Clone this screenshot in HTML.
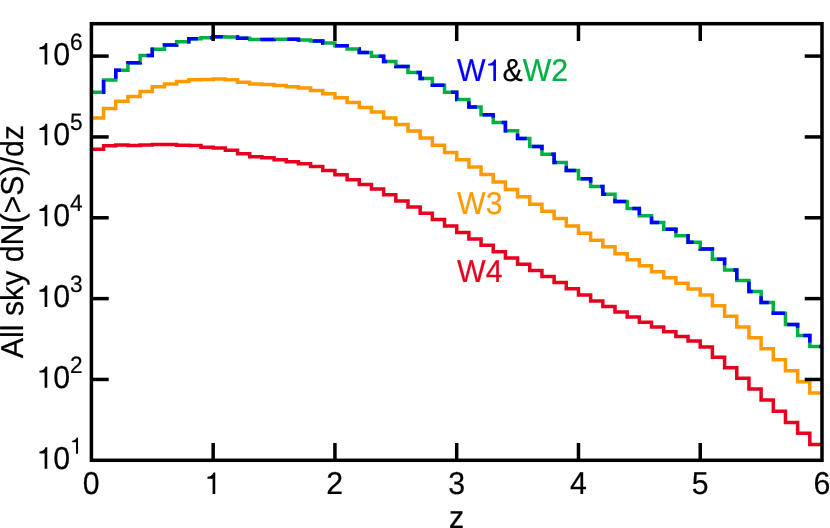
<!DOCTYPE html>
<html><head><meta charset="utf-8"><title>chart</title>
<style>
html,body{margin:0;padding:0;background:#fff;}
svg{display:block;font-family:"Liberation Sans",sans-serif;will-change:transform;}
</style></head><body>
<svg width="830" height="528" viewBox="0 0 830 528">
<rect x="0" y="0" width="830" height="528" fill="#ffffff"/>
<g fill="none" stroke-width="3.5" stroke-linejoin="miter" stroke-linecap="butt">
<path d="M91.40 149.20 L103.58 149.20 L103.58 145.80 L115.75 145.80 L115.75 144.93 L127.93 144.93 L127.93 145.50 L140.11 145.50 L140.11 144.93 L152.28 144.93 L152.28 144.45 L164.46 144.45 L164.46 144.45 L176.64 144.45 L176.64 145.20 L188.81 145.20 L188.81 145.45 L200.99 145.45 L200.99 147.20 L213.17 147.20 L213.17 147.95 L225.34 147.95 L225.34 150.20 L237.52 150.20 L237.52 153.70 L249.70 153.70 L249.70 156.70 L261.87 156.70 L261.87 157.75 L274.05 157.75 L274.05 159.80 L286.23 159.80 L286.23 161.80 L298.40 161.80 L298.40 163.70 L310.58 163.70 L310.58 166.58 L322.76 166.58 L322.76 170.46 L334.93 170.46 L334.93 174.85 L347.11 174.85 L347.11 179.80 L359.29 179.80 L359.29 184.57 L371.46 184.57 L371.46 189.05 L383.64 189.05 L383.64 194.80 L395.82 194.80 L395.82 200.95 L407.99 200.95 L407.99 206.97 L420.17 206.97 L420.17 213.20 L432.35 213.20 L432.35 219.62 L444.52 219.62 L444.52 226.02 L456.70 226.02 L456.70 232.56 L468.88 232.56 L468.88 239.07 L481.05 239.07 L481.05 245.34 L493.23 245.34 L493.23 251.85 L505.41 251.85 L505.41 258.10 L517.58 258.10 L517.58 264.35 L529.76 264.35 L529.76 270.40 L541.94 270.40 L541.94 276.60 L554.11 276.60 L554.11 282.50 L566.29 282.50 L566.29 288.74 L578.47 288.74 L578.47 294.96 L590.64 294.96 L590.64 300.90 L602.82 300.90 L602.82 306.50 L615.00 306.50 L615.00 311.90 L627.17 311.90 L627.17 317.00 L639.35 317.00 L639.35 322.30 L651.53 322.30 L651.53 327.08 L663.70 327.08 L663.70 331.85 L675.88 331.85 L675.88 336.60 L688.06 336.60 L688.06 341.10 L700.23 341.10 L700.23 346.90 L712.41 346.90 L712.41 357.15 L724.59 357.15 L724.59 367.70 L736.76 367.70 L736.76 378.36 L748.94 378.36 L748.94 389.10 L761.12 389.10 L761.12 400.10 L773.29 400.10 L773.29 411.30 L785.47 411.30 L785.47 422.46 L797.65 422.46 L797.65 433.36 L809.82 433.36 L809.82 444.40 L822.00 444.40" stroke="#e6001e"/>
<path d="M91.40 118.10 L103.58 118.10 L103.58 108.60 L115.75 108.60 L115.75 101.20 L127.93 101.20 L127.93 96.60 L140.11 96.60 L140.11 91.56 L152.28 91.56 L152.28 86.80 L164.46 86.80 L164.46 83.95 L176.64 83.95 L176.64 81.50 L188.81 81.50 L188.81 79.75 L200.99 79.75 L200.99 79.45 L213.17 79.45 L213.17 78.95 L225.34 78.95 L225.34 79.80 L237.52 79.80 L237.52 82.30 L249.70 82.30 L249.70 83.96 L261.87 83.96 L261.87 84.58 L274.05 84.58 L274.05 85.56 L286.23 85.56 L286.23 86.80 L298.40 86.80 L298.40 88.07 L310.58 88.07 L310.58 90.58 L322.76 90.58 L322.76 93.83 L334.93 93.83 L334.93 97.84 L347.11 97.84 L347.11 102.60 L359.29 102.60 L359.29 107.40 L371.46 107.40 L371.46 112.06 L383.64 112.06 L383.64 117.94 L395.82 117.94 L395.82 124.46 L407.99 124.46 L407.99 130.98 L420.17 130.98 L420.17 138.00 L432.35 138.00 L432.35 145.14 L444.52 145.14 L444.52 152.40 L456.70 152.40 L456.70 159.70 L468.88 159.70 L468.88 167.08 L481.05 167.08 L481.05 174.60 L493.23 174.60 L493.23 182.00 L505.41 182.00 L505.41 189.45 L517.58 189.45 L517.58 196.85 L529.76 196.85 L529.76 204.14 L541.94 204.14 L541.94 211.37 L554.11 211.37 L554.11 218.60 L566.29 218.60 L566.29 225.97 L578.47 225.97 L578.47 233.35 L590.64 233.35 L590.64 240.14 L602.82 240.14 L602.82 246.82 L615.00 246.82 L615.00 253.67 L627.17 253.67 L627.17 259.70 L639.35 259.70 L639.35 265.80 L651.53 265.80 L651.53 271.85 L663.70 271.85 L663.70 277.64 L675.88 277.64 L675.88 283.30 L688.06 283.30 L688.06 288.90 L700.23 288.90 L700.23 295.00 L712.41 295.00 L712.41 305.70 L724.59 305.70 L724.59 316.20 L736.76 316.20 L736.76 326.90 L748.94 326.90 L748.94 337.75 L761.12 337.75 L761.12 348.85 L773.29 348.85 L773.29 359.80 L785.47 359.80 L785.47 370.70 L797.65 370.70 L797.65 381.86 L809.82 381.86 L809.82 392.90 L822.00 392.90" stroke="#ff9900"/>
<path d="M91.40 92.20 L103.58 92.20 L103.58 79.90 L115.75 79.90 L115.75 70.30 L127.93 70.30 L127.93 62.85 L140.11 62.85 L140.11 55.40 L152.28 55.40 L152.28 49.30 L164.46 49.30 L164.46 44.95 L176.64 44.95 L176.64 41.75 L188.81 41.75 L188.81 38.80 L200.99 38.80 L200.99 37.70 L213.17 37.70 L213.17 36.80 L225.34 36.80 L225.34 37.05 L237.52 37.05 L237.52 38.30 L249.70 38.30 L249.70 39.55 L261.87 39.55 L261.87 39.40 L274.05 39.40 L274.05 39.25 L286.23 39.25 L286.23 39.30 L298.40 39.30 L298.40 39.90 L310.58 39.90 L310.58 40.90 L322.76 40.90 L322.76 43.10 L334.93 43.10 L334.93 45.70 L347.11 45.70 L347.11 49.00 L359.29 49.00 L359.29 52.60 L371.46 52.60 L371.46 56.30 L383.64 56.30 L383.64 61.44 L395.82 61.44 L395.82 66.58 L407.99 66.58 L407.99 72.47 L420.17 72.47 L420.17 78.60 L432.35 78.60 L432.35 85.25 L444.52 85.25 L444.52 92.20 L456.70 92.20 L456.70 99.56 L468.88 99.56 L468.88 106.95 L481.05 106.95 L481.05 114.72 L493.23 114.72 L493.23 122.60 L505.41 122.60 L505.41 130.70 L517.58 130.70 L517.58 138.43 L529.76 138.43 L529.76 146.40 L541.94 146.40 L541.94 154.36 L554.11 154.36 L554.11 162.46 L566.29 162.46 L566.29 170.55 L578.47 170.55 L578.47 178.80 L590.64 178.80 L590.64 186.60 L602.82 186.60 L602.82 194.35 L615.00 194.35 L615.00 201.40 L627.17 201.40 L627.17 208.60 L639.35 208.60 L639.35 215.70 L651.53 215.70 L651.53 222.50 L663.70 222.50 L663.70 229.30 L675.88 229.30 L675.88 235.66 L688.06 235.66 L688.06 242.20 L700.23 242.20 L700.23 249.05 L712.41 249.05 L712.41 259.30 L724.59 259.30 L724.59 269.96 L736.76 269.96 L736.76 280.50 L748.94 280.50 L748.94 291.40 L761.12 291.40 L761.12 302.40 L773.29 302.40 L773.29 313.30 L785.47 313.30 L785.47 324.60 L797.65 324.60 L797.65 335.50 L809.82 335.50 L809.82 346.60 L822.00 346.60" stroke="#00b044"/>
<path d="M91.40 92.20 L103.58 92.20 L103.58 79.90 L115.75 79.90 L115.75 70.30 L127.93 70.30 L127.93 62.85 L140.11 62.85 L140.11 55.40 L152.28 55.40 L152.28 49.30 L164.46 49.30 L164.46 44.95 L176.64 44.95 L176.64 41.75 L188.81 41.75 L188.81 38.80 L200.99 38.80 L200.99 37.70 L213.17 37.70 L213.17 36.80 L225.34 36.80 L225.34 37.05 L237.52 37.05 L237.52 38.30 L249.70 38.30 L249.70 39.55 L261.87 39.55 L261.87 39.40 L274.05 39.40 L274.05 39.25 L286.23 39.25 L286.23 39.30 L298.40 39.30 L298.40 39.90 L310.58 39.90 L310.58 40.90 L322.76 40.90 L322.76 43.10 L334.93 43.10 L334.93 45.70 L347.11 45.70 L347.11 49.00 L359.29 49.00 L359.29 52.60 L371.46 52.60 L371.46 56.30 L383.64 56.30 L383.64 61.44 L395.82 61.44 L395.82 66.58 L407.99 66.58 L407.99 72.47 L420.17 72.47 L420.17 78.60 L432.35 78.60 L432.35 85.25 L444.52 85.25 L444.52 92.20 L456.70 92.20 L456.70 99.56 L468.88 99.56 L468.88 106.95 L481.05 106.95 L481.05 114.72 L493.23 114.72 L493.23 122.60 L505.41 122.60 L505.41 130.70 L517.58 130.70 L517.58 138.43 L529.76 138.43 L529.76 146.40 L541.94 146.40 L541.94 154.36 L554.11 154.36 L554.11 162.46 L566.29 162.46 L566.29 170.55 L578.47 170.55 L578.47 178.80 L590.64 178.80 L590.64 186.60 L602.82 186.60 L602.82 194.35 L615.00 194.35 L615.00 201.40 L627.17 201.40 L627.17 208.60 L639.35 208.60 L639.35 215.70 L651.53 215.70 L651.53 222.50 L663.70 222.50 L663.70 229.30 L675.88 229.30 L675.88 235.66 L688.06 235.66 L688.06 242.20 L700.23 242.20 L700.23 249.05 L712.41 249.05 L712.41 259.30 L724.59 259.30 L724.59 269.96 L736.76 269.96 L736.76 280.50 L748.94 280.50 L748.94 291.40 L761.12 291.40 L761.12 302.40 L773.29 302.40 L773.29 313.30 L785.47 313.30 L785.47 324.60 L797.65 324.60 L797.65 335.50 L809.82 335.50 L809.82 346.60 L822.00 346.60" stroke="#0000ff" stroke-dasharray="13.7 13.37" stroke-dashoffset="-10.75"/>
</g>
<g stroke="#000" stroke-width="3.5" fill="none">
<line x1="213.17" y1="460.30" x2="213.17" y2="443.00"/><line x1="213.17" y1="23.70" x2="213.17" y2="41.00"/><line x1="334.93" y1="460.30" x2="334.93" y2="443.00"/><line x1="334.93" y1="23.70" x2="334.93" y2="41.00"/><line x1="456.70" y1="460.30" x2="456.70" y2="443.00"/><line x1="456.70" y1="23.70" x2="456.70" y2="41.00"/><line x1="578.47" y1="460.30" x2="578.47" y2="443.00"/><line x1="578.47" y1="23.70" x2="578.47" y2="41.00"/><line x1="700.23" y1="460.30" x2="700.23" y2="443.00"/><line x1="700.23" y1="23.70" x2="700.23" y2="41.00"/><line x1="91.40" y1="379.46" x2="108.70" y2="379.46"/><line x1="822.00" y1="379.46" x2="804.70" y2="379.46"/><line x1="91.40" y1="298.62" x2="108.70" y2="298.62"/><line x1="822.00" y1="298.62" x2="804.70" y2="298.62"/><line x1="91.40" y1="217.78" x2="108.70" y2="217.78"/><line x1="822.00" y1="217.78" x2="804.70" y2="217.78"/><line x1="91.40" y1="136.94" x2="108.70" y2="136.94"/><line x1="822.00" y1="136.94" x2="804.70" y2="136.94"/><line x1="91.40" y1="56.10" x2="108.70" y2="56.10"/><line x1="822.00" y1="56.10" x2="804.70" y2="56.10"/>
<rect x="91.4" y="23.7" width="730.60" height="436.60"/>
</g>
<g font-size="30.3" fill="#000" stroke="#000" stroke-width="0.2" style="text-rendering:geometricPrecision">
<text transform="translate(91.25,494.40) scale(1,1.0450)" text-anchor="middle">0</text>
<path d="M215.27 494.00 L212.60 494.00 L212.60 478.70 L207.45 478.70 L207.45 476.79 C210.15 476.58 212.33 475.46 213.51 472.52 L215.27 472.52 Z" stroke="none"/>
<text transform="translate(334.78,494.40) scale(1,1.0450)" text-anchor="middle">2</text>
<text transform="translate(456.55,494.40) scale(1,1.0450)" text-anchor="middle">3</text>
<text transform="translate(578.32,494.40) scale(1,1.0450)" text-anchor="middle">4</text>
<text transform="translate(700.08,494.40) scale(1,1.0450)" text-anchor="middle">5</text>
<text transform="translate(821.85,494.40) scale(1,1.0450)" text-anchor="middle">6</text>
<path d="M47.28 468.70 L44.61 468.70 L44.61 453.40 L39.46 453.40 L39.46 451.49 C42.16 451.28 44.34 450.16 45.52 447.22 L47.28 447.22 Z" stroke="none"/>
<text transform="translate(53.25,468.70) scale(1,1.0450)">0</text>
<path d="M78.05 453.70 L76.05 453.70 L76.05 442.24 L72.20 442.24 L72.20 440.81 C74.22 440.65 75.85 439.81 76.74 437.61 L78.05 437.61 Z" stroke="none"/>
<path d="M47.28 387.86 L44.61 387.86 L44.61 372.56 L39.46 372.56 L39.46 370.65 C42.16 370.44 44.34 369.32 45.52 366.38 L47.28 366.38 Z" stroke="none"/>
<text transform="translate(53.25,387.86) scale(1,1.0450)">0<tspan dx="-0.20" dy="-14.35" font-size="22.70">2</tspan></text>
<path d="M47.28 307.02 L44.61 307.02 L44.61 291.72 L39.46 291.72 L39.46 289.81 C42.16 289.60 44.34 288.48 45.52 285.54 L47.28 285.54 Z" stroke="none"/>
<text transform="translate(53.25,307.02) scale(1,1.0450)">0<tspan dx="-0.20" dy="-14.35" font-size="22.70">3</tspan></text>
<path d="M47.28 226.18 L44.61 226.18 L44.61 210.88 L39.46 210.88 L39.46 208.97 C42.16 208.76 44.34 207.64 45.52 204.70 L47.28 204.70 Z" stroke="none"/>
<text transform="translate(53.25,226.18) scale(1,1.0450)">0<tspan dx="-0.20" dy="-14.35" font-size="22.70">4</tspan></text>
<path d="M47.28 145.34 L44.61 145.34 L44.61 130.04 L39.46 130.04 L39.46 128.13 C42.16 127.92 44.34 126.80 45.52 123.86 L47.28 123.86 Z" stroke="none"/>
<text transform="translate(53.25,145.34) scale(1,1.0450)">0<tspan dx="-0.20" dy="-14.35" font-size="22.70">5</tspan></text>
<path d="M47.28 64.50 L44.61 64.50 L44.61 49.20 L39.46 49.20 L39.46 47.29 C42.16 47.08 44.34 45.96 45.52 43.02 L47.28 43.02 Z" stroke="none"/>
<text transform="translate(53.25,64.50) scale(1,1.0450)">0<tspan dx="-0.20" dy="-14.35" font-size="22.70">6</tspan></text>
<text transform="translate(456.50,528.40) scale(1,1.0450)" text-anchor="middle">z</text>
<text transform="translate(23.40,241.60) rotate(-90) scale(1,1.0450)" text-anchor="middle">All sky dN(&gt;S)/dz</text>
<text transform="translate(457.10,80.90) scale(1,1.0450)" fill="#0000ff" stroke="#0000ff">W</text>
<path d="M495.98 80.90 L493.31 80.90 L493.31 65.60 L488.16 65.60 L488.16 63.69 C490.86 63.48 493.04 62.36 494.22 59.42 L495.98 59.42 Z" fill="#0000ff" stroke="none"/>
<text transform="translate(502.55,80.90) scale(1,1.0450)">&amp;<tspan fill="#00b044" stroke="#00b044">W2</tspan></text>
<text transform="translate(457.10,213.50) scale(1,1.0450)" fill="#ff9900" stroke="#ff9900">W3</text>
<text transform="translate(457.10,281.80) scale(1,1.0450)" fill="#e6001e" stroke="#e6001e">W4</text>
</g>
</svg>
</body></html>
